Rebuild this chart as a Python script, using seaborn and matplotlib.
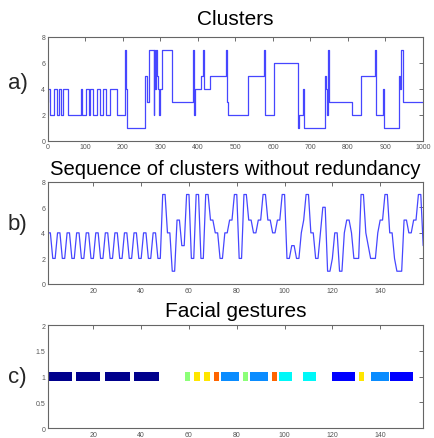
import numpy as np
import pandas as pd
import seaborn as sns
import matplotlib.pyplot as plt

# a) cluster index over frames (change points, value held until next frame)
cluster_frame = [0, 1, 5, 17, 23, 30, 35, 41, 54, 89,
                 91, 101, 110, 112, 121, 130, 139, 148, 155, 165,
                 183, 206, 208, 211, 258, 263, 269, 282, 284, 286,
                 288, 290, 293, 297, 300, 304, 332, 386, 389, 391,
                 407, 414, 416, 432, 476, 478, 480, 533, 577, 580,
                 604, 666, 669, 681, 684, 738, 741, 744, 746, 750,
                 812, 836, 873, 876, 893, 896, 937, 940, 942, 948,
                 1000]
cluster_value = [3, 4, 2, 4, 2, 4, 2, 4, 2, 4,
                 2, 4, 2, 4, 2, 4, 2, 4, 2, 4,
                 2, 7, 4, 1, 5, 3, 7, 2, 7, 4,
                 7, 5, 4, 2, 4, 7, 3, 7, 2, 4,
                 5, 7, 4, 5, 7, 3, 2, 5, 7, 2,
                 6, 1, 2, 4, 1, 5, 4, 2, 7, 3,
                 2, 5, 7, 2, 4, 1, 5, 4, 7, 3,
                 3]

# b) sequence of clusters without redundancy
sequence_value = [4, 4, 2, 2, 4, 4, 2, 2, 4, 4, 2, 2, 4, 4, 2, 2,
                  4, 4, 2, 2, 4, 4, 2, 2, 4, 4, 2, 2, 4, 4, 2, 2,
                  4, 4, 2, 2, 4, 4, 2, 2, 4, 4, 2, 2, 4, 4, 2, 2,
                  7, 7, 4, 4, 1, 1, 5, 5, 3, 3, 7, 7, 2, 2, 7, 7,
                  2, 2, 7, 7, 5, 5, 4, 4, 2, 2, 4, 4, 5, 5, 7, 7,
                  2, 2, 7, 7, 5, 5, 4, 4, 5, 5, 7, 7, 5, 5, 4, 4,
                  5, 5, 7, 7, 2, 2, 3, 3, 2, 2, 4, 5, 7, 7, 4, 4,
                  2, 2, 4, 6, 6, 1, 1, 2, 4, 4, 1, 1, 4, 5, 5, 4,
                  2, 2, 2, 7, 7, 4, 3, 2, 2, 2, 4, 5, 5, 7, 7, 4,
                  4, 2, 1, 1, 1, 5, 5, 4, 4, 5, 5, 7, 7, 3]

# c) facial gestures: start, end and gesture class
gesture_start = [1, 12.8, 24.9, 37.1, 58.3, 62.3, 66.2, 70.4, 73.5, 82.8,
                 85.5, 94.7, 97.6, 107.8, 120, 131.1, 136.3, 144.2]
gesture_end = [11, 22.9, 35.4, 47.5, 60.5, 64.5, 68.6, 72.7, 80.9, 84.7,
               93.1, 96.8, 103.2, 113.2, 129.5, 133.3, 143.5, 153.8]
gesture_class = ['navy', 'navy', 'navy', 'navy', 'green', 'yellow', 'yellow',
                 'orange', 'azure', 'green', 'azure', 'orange', 'cyan', 'cyan',
                 'blue', 'yellow', 'azure', 'blue']
gesture_colors = {'navy': '#00008c', 'blue': '#0000ff', 'azure': '#0a8cff',
                  'cyan': '#00f8f8', 'green': '#8cff78', 'yellow': '#ffe600',
                  'orange': '#ff6400'}

sns.set_theme(style="white")
plt.rcParams['font.family'] = ['Liberation Sans', 'DejaVu Sans']

fig = plt.figure(figsize=(4.35, 4.39), dpi=100)
ax_a = fig.add_axes([0.1103, 0.6772, 0.862, 0.2369])
ax_b = fig.add_axes([0.1103, 0.3508, 0.862, 0.2330])
ax_c = fig.add_axes([0.1103, 0.0221, 0.862, 0.2353])

line_col = '#4646ff'

df_a = pd.DataFrame({'frame': cluster_frame, 'cluster': cluster_value})
sns.lineplot(data=df_a, x='frame', y='cluster', ax=ax_a, color=line_col,
             lw=0.9, estimator=None, drawstyle='steps-post')
ax_a.set_xlim(0, 1000)
ax_a.set_ylim(0, 8)
ax_a.set_xticks(range(0, 1001, 100))
ax_a.set_yticks([0, 2, 4, 6, 8])

df_b = pd.DataFrame({'pos': np.arange(1, len(sequence_value) + 1),
                     'cluster': sequence_value})
sns.lineplot(data=df_b, x='pos', y='cluster', ax=ax_b, color=line_col,
             lw=0.9, estimator=None)
ax_b.set_xlim(1, 157.9)
ax_b.set_ylim(0, 8)
ax_b.set_xticks(range(20, 141, 20))
ax_b.set_yticks([0, 2, 4, 6, 8])

for s, e, g in zip(gesture_start, gesture_end, gesture_class):
    ax_c.barh(1, e - s, left=s, height=0.18, color=gesture_colors[g],
              edgecolor='none')
ax_c.set_xlim(1, 157.9)
ax_c.set_ylim(0, 2)
ax_c.set_xticks(range(20, 141, 20))
ax_c.set_yticks([0, 0.5, 1, 1.5, 2])
ax_c.set_yticklabels(['0', '0.5', '1', '1.5', '2'])

titles = ['Clusters', 'Sequence of clusters without redundancy', 'Facial gestures']
pads = [9, 5.5, 6.7]
sizes = [15, 14.6, 15]
for ax, t, p, fs in zip([ax_a, ax_b, ax_c], titles, pads, sizes):
    ax.set_xlabel('')
    ax.set_ylabel('')
    ax.set_title(t, fontsize=fs, pad=p, color='black')
    ax.tick_params(direction='in', top=True, right=True, length=3, width=0.6,
                   labelsize=5, labelcolor='#555555', color='#555555', pad=2)
    for sp in ax.spines.values():
        sp.set_color('#666666')
        sp.set_linewidth(0.8)

fig.text(0.041, 0.809, 'a)', fontsize=16, ha='center', va='center')
fig.text(0.041, 0.4875, 'b)', fontsize=16, ha='center', va='center')
fig.text(0.040, 0.141, 'c)', fontsize=16, ha='center', va='center')

fig.savefig('out.png', dpi=100)
